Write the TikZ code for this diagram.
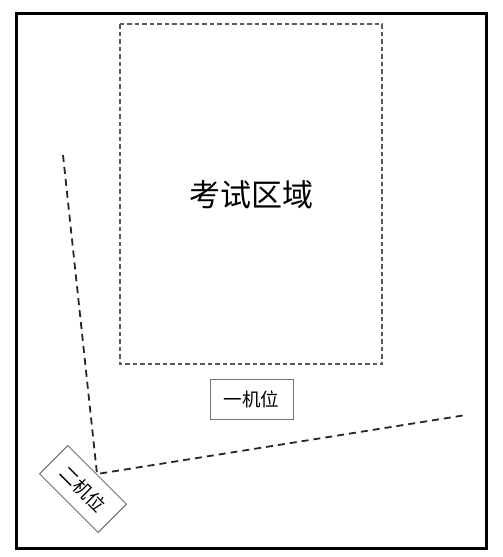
\documentclass[tikz,border=0pt]{standalone}
\usepackage{fontspec}
\newfontfamily\cjk{Noto Sans CJK SC}
\begin{document}
\begin{tikzpicture}[x=1pt,y=-1pt,
  frame/.style={draw=black,line width=3pt},
  zone/.style={draw=black!65,line width=1.2pt,dash pattern=on 4.5pt off 3pt},
  cambox/.style={draw=black!55,line width=1pt,minimum width=83pt,minimum height=40pt,inner sep=0pt,font=\cjk\fontsize{18.5}{22}\selectfont},
  sight/.style={draw=black!85,line width=1.8pt,dash pattern=on 7pt off 5pt}]
\useasboundingbox (0,0) rectangle (503,557);
\draw[frame] (16,13) rectangle (486,548);
\draw[zone] (120,24) rectangle (382,364);
\node[font=\cjk\fontsize{31}{35}\selectfont] (area) at (251,195) {考试区域};
\node[cambox] (cam1) at (251.5,399) {一机位};
\node[cambox,rotate=-45] (cam2) at (83,489) {二机位};
\coordinate (apex) at (97,474);
\coordinate (topend) at (63,155);
\coordinate (rightend) at (466,415);
\draw[sight] (topend) -- (apex) -- (rightend);
\end{tikzpicture}
\end{document}
